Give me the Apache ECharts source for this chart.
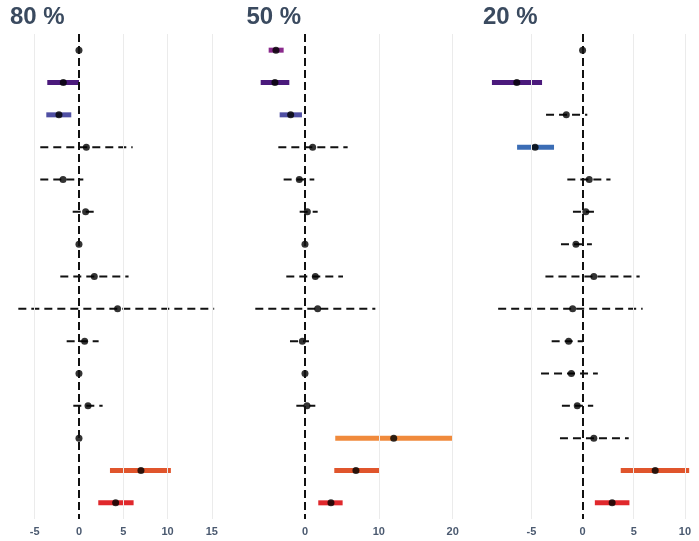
<!DOCTYPE html>
<html>
<head>
<meta charset="utf-8">
<title>Effect estimates by share</title>
<script src="https://cdn.jsdelivr.net/npm/echarts@6/dist/echarts.min.js"></script>
<style>
  html, body { margin: 0; padding: 0; background: #ffffff; }
  #chart { width: 699px; height: 541px; }
</style>
</head>
<body>
<div id="chart"></div>
<script>
// Row identifiers (top to bottom)
const rows = ['r1','r2','r3','r4','r5','r6','r7','r8','r9','r10','r11','r12','r13','r14','r15'];

// Panel titles
const panelTitles = ['80 %', '50 %', '20 %'];

// Per-row colour used when an interval does not cross zero
const rowColors = ['#8a2a8c','#4b1a7c','#4f4fa3','#3b6db5','#3b6db5','#3b6db5','#3b6db5',
                   '#3b6db5','#3b6db5','#3b6db5','#3b6db5','#3b6db5','#f08a3c','#e0552c','#e0282c'];

// Panel "80 %": estimate, lower and upper bound per row
const est80 = [0, -1.77, -2.26, 0.83, -1.80, 0.75, 0, 1.73, 4.36, 0.64, 0, 1.02, 0, 7.00, 4.14];
const lo80  = [0, -3.58, -3.69, -4.37, -4.37, -0.71, 0, -2.11, -6.85, -1.39, 0, -0.64, 0, 3.50, 2.18];
const hi80  = [0, 0.00, -0.87, 6.06, 0.49, 2.22, 0, 5.60, 15.27, 2.22, 0, 2.67, 0, 10.38, 6.17];

// Panel "50 %"
const est50 = [-3.93, -4.07, -1.94, 1.04, -0.77, 0.32, 0, 1.40, 1.72, -0.36, 0, 0.27, 12.02, 6.90, 3.52];
const lo50  = [-4.92, -6.00, -3.43, -3.61, -2.89, -0.72, 0, -2.53, -6.73, -2.03, 0, -1.17, 4.10, 3.97, 1.80];
const hi50  = [-2.89, -2.12, -0.41, 5.78, 1.26, 1.72, 0, 5.15, 9.53, 0.54, 0, 1.40, 20.05, 10.03, 5.10];

// Panel "20 %"
const est20 = [0, -6.43, -1.59, -4.64, 0.65, 0.32, -0.65, 1.10, -0.97, -1.36, -1.10, -0.52, 1.10, 7.10, 2.89];
const lo20  = [0, -8.86, -3.57, -6.40, -1.49, -0.94, -2.11, -3.63, -8.25, -3.02, -4.06, -2.02, -2.21, 3.73, 1.20];
const hi20  = [0, -3.96, 0.46, -2.79, 2.73, 1.59, 0.91, 5.58, 5.87, 0.03, 1.49, 1.04, 4.51, 10.42, 4.58];

// Tick values shown on each panel's x axis
const ticks80 = [-5, 0, 5, 10, 15];
const ticks50 = [0, 10, 20];
const ticks20 = [-5, 0, 5, 10];

const panels = [
  { title: panelTitles[0], est: est80, lo: lo80, hi: hi80, ticks: ticks80,
    left: 8.5, width: 215.5, min: -7.96, max: 16.38, titleLeft: 10 },
  { title: panelTitles[1], est: est50, lo: lo50, hi: hi50, ticks: ticks50,
    left: 245.4, width: 217.5, min: -8.07, max: 21.39, titleLeft: 246.5 },
  { title: panelTitles[2], est: est20, lo: lo20, hi: hi20, ticks: ticks20,
    left: 482.1, width: 217.8, min: -9.82, max: 11.38, titleLeft: 483 }
];

const chart = echarts.init(document.getElementById('chart'), null, { renderer: 'canvas' });

const grids = [], xAxes = [], yAxes = [], series = [], titles = [];

panels.forEach((p, i) => {
  grids.push({ left: p.left, width: p.width, top: 34, height: 485, containLabel: false });

  titles.push({
    text: p.title, left: p.titleLeft, top: 5, padding: 0,
    textStyle: { fontFamily: 'Liberation Sans, Arial, sans-serif', fontWeight: 'bold',
                 fontSize: 24, color: '#3a4a5f' }
  });

  xAxes.push({
    type: 'value', gridIndex: i, min: p.min, max: p.max,
    axisLine: { show: false },
    axisTick: { show: false, customValues: p.ticks },
    axisLabel: {
      customValues: p.ticks,
      formatter: v => String(v),
      fontFamily: 'Liberation Sans, Arial, sans-serif', fontWeight: 'bold',
      fontSize: 11, color: '#4b5a70', margin: 7
    },
    splitLine: { show: false }
  });

  yAxes.push({
    type: 'category', gridIndex: i, data: rows, inverse: true,
    boundaryGap: true,
    axisLine: { show: false }, axisTick: { show: false },
    axisLabel: { show: false }, splitLine: { show: false }
  });

  // light vertical gridlines at the labelled ticks (zero is covered by the dashed reference line)
  const gridData = p.ticks.filter(t => t !== 0).map(t => ({ xAxis: t }));
  series.push({
    type: 'line', xAxisIndex: i, yAxisIndex: i, data: [], silent: true,
    markLine: {
      silent: true, symbol: 'none', label: { show: false },
      lineStyle: { color: '#ebebeb', width: 1, type: 'solid' },
      data: gridData
    },
    z: 1
  });

  // dashed zero reference line
  series.push({
    type: 'line', xAxisIndex: i, yAxisIndex: i, data: [], silent: true,
    markLine: {
      silent: true, symbol: 'none', label: { show: false },
      lineStyle: { color: '#111111', width: 2, type: [8, 4] },
      data: [{ xAxis: 0 }]
    },
    z: 2
  });

  // interval segments: coloured when clear of zero, dashed black otherwise
  const segData = rows.map((r, k) => [p.lo[k], p.hi[k], k]);
  series.push({
    type: 'custom', xAxisIndex: i, yAxisIndex: i, silent: true,
    data: segData,
    encode: { x: [0, 1], y: 2 },
    renderItem: function (params, api) {
      const lo = api.value(0), hi = api.value(1), k = api.value(2);
      if (hi - lo < 1e-9) return null;
      const a = api.coord([lo, k]);
      const b = api.coord([hi, k]);
      const significant = (lo > 0 && hi > 0) || (lo < 0 && hi < 0) ||
                          (hi === 0 && lo < 0) || (lo === 0 && hi > 0);
      if (significant) {
        return {
          type: 'line',
          shape: { x1: a[0], y1: a[1], x2: b[0], y2: b[1] },
          style: { stroke: rowColors[k], lineWidth: 5, lineCap: 'butt' }
        };
      }
      return {
        type: 'line',
        shape: { x1: a[0], y1: a[1], x2: b[0], y2: b[1] },
        style: { stroke: '#111111', lineWidth: 2, lineDash: [8, 5], lineCap: 'butt' }
      };
    },
    z: 3
  });

  // point estimates
  series.push({
    type: 'scatter', xAxisIndex: i, yAxisIndex: i, silent: true,
    data: rows.map((r, k) => [p.est[k], k]),
    symbol: 'circle', symbolSize: 7,
    itemStyle: { color: '#000000' },
    z: 4
  });
});

chart.setOption({
  animation: false,
  backgroundColor: '#ffffff',
  title: titles,
  grid: grids,
  xAxis: xAxes,
  yAxis: yAxes,
  series: series
});
</script>
</body>
</html>
